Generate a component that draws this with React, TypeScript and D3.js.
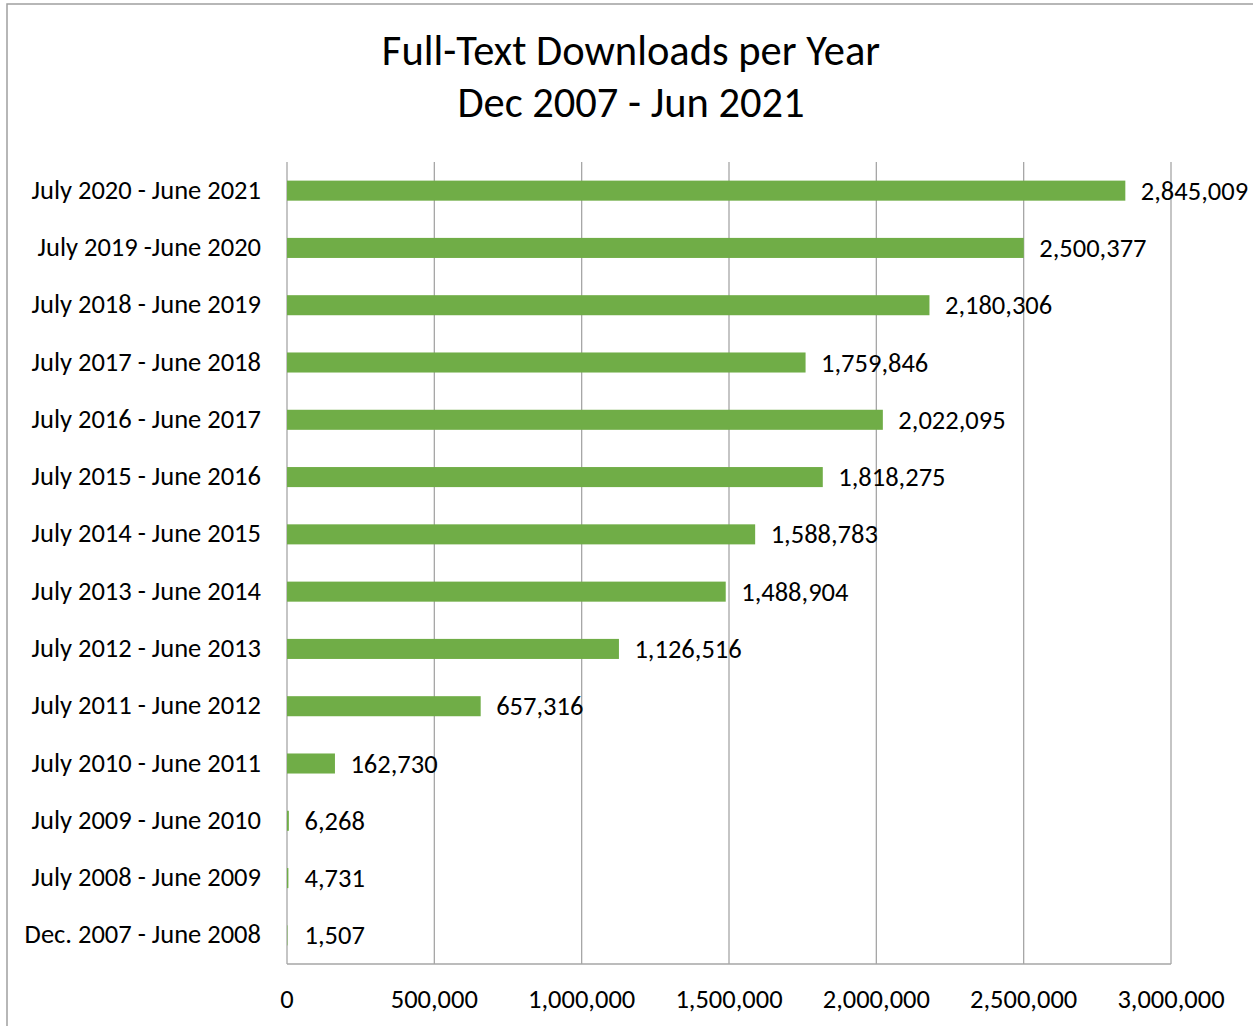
import React from 'react';
import * as d3 from 'd3';

const categories = [
  'July 2020 - June 2021',
  'July 2019 -June 2020',
  'July 2018 - June 2019',
  'July 2017 - June 2018',
  'July 2016 - June 2017',
  'July 2015 - June 2016',
  'July 2014 - June 2015',
  'July 2013 - June 2014',
  'July 2012 - June 2013',
  'July 2011 - June 2012',
  'July 2010 - June 2011',
  'July 2009 - June 2010',
  'July 2008 - June 2009',
  'Dec. 2007 - June 2008',
];

const downloads = [
  2845009, 2500377, 2180306, 1759846, 2022095, 1818275, 1588783,
  1488904, 1126516, 657316, 162730, 6268, 4731, 1507,
];

const xTicks = [0, 500000, 1000000, 1500000, 2000000, 2500000, 3000000];

const titleLines = ['Full-Text Downloads per Year', 'Dec 2007 - Jun 2021'];

const W = 1253;
const H = 1026;
const FONT = 'Carlito, Calibri, Lato, sans-serif';

export default function App() {
  const plot = { left: 287, right: 1171, top: 162, bottom: 964 };

  const x = d3.scaleLinear().domain([0, 3000000]).range([plot.left, plot.right]);
  const y = d3.scaleBand<string>()
    .domain(categories)
    .range([plot.top, plot.bottom])
    .paddingInner(0.65)
    .paddingOuter(0.325);

  const fmt = d3.format(',');
  const grid = '#a6a6a6';
  const fs = 26.5;

  return (
    <svg
      width={W}
      height={H}
      style={{ position: 'absolute', left: 0, top: 0, background: '#fff' }}
      fontFamily={FONT}
    >
      {/* chart frame, cut off at right and bottom */}
      <rect x={7} y={4} width={W + 20} height={H + 20} fill="#fff" stroke="#a0a0a0" strokeWidth={1.5} />
      <text x={1085} y={-5} fontSize={24} fill="#000">p</text>

      {titleLines.map((t, i) => (
        <text key={t} x={631} y={65 + i * 52} textAnchor="middle" fontSize={42.5} fill="#000">
          {t}
        </text>
      ))}

      {/* vertical gridlines */}
      {xTicks.map(t => (
        <line key={t} x1={x(t)} x2={x(t)} y1={plot.top} y2={plot.bottom} stroke={grid} strokeWidth={1.3} />
      ))}
      <line x1={plot.left} x2={plot.right} y1={plot.bottom} y2={plot.bottom} stroke={grid} strokeWidth={1.3} />

      {/* bars */}
      {categories.map((c, i) => (
        <rect
          key={c}
          x={x(0)}
          y={y(c)}
          width={Math.max(x(downloads[i]) - x(0), 0)}
          height={y.bandwidth()}
          fill="#70ad47"
        />
      ))}

      {/* value labels */}
      {categories.map((c, i) => (
        <text
          key={c}
          x={Math.max(x(downloads[i]), x(0) + 2) + 15.5}
          y={(y(c) ?? 0) + y.bandwidth() / 2 + 9}
          fontSize={fs}
          fill="#000"
        >
          {fmt(downloads[i])}
        </text>
      ))}

      {/* category labels */}
      {categories.map(c => (
        <text
          key={c}
          x={261}
          y={(y(c) ?? 0) + y.bandwidth() / 2 + 8}
          textAnchor="end"
          fontSize={fs}
          fill="#000"
        >
          {c}
        </text>
      ))}

      {/* x tick labels */}
      {xTicks.map(t => (
        <text key={t} x={x(t)} y={1008} textAnchor="middle" fontSize={fs} fill="#000">
          {fmt(t)}
        </text>
      ))}
    </svg>
  );
}
